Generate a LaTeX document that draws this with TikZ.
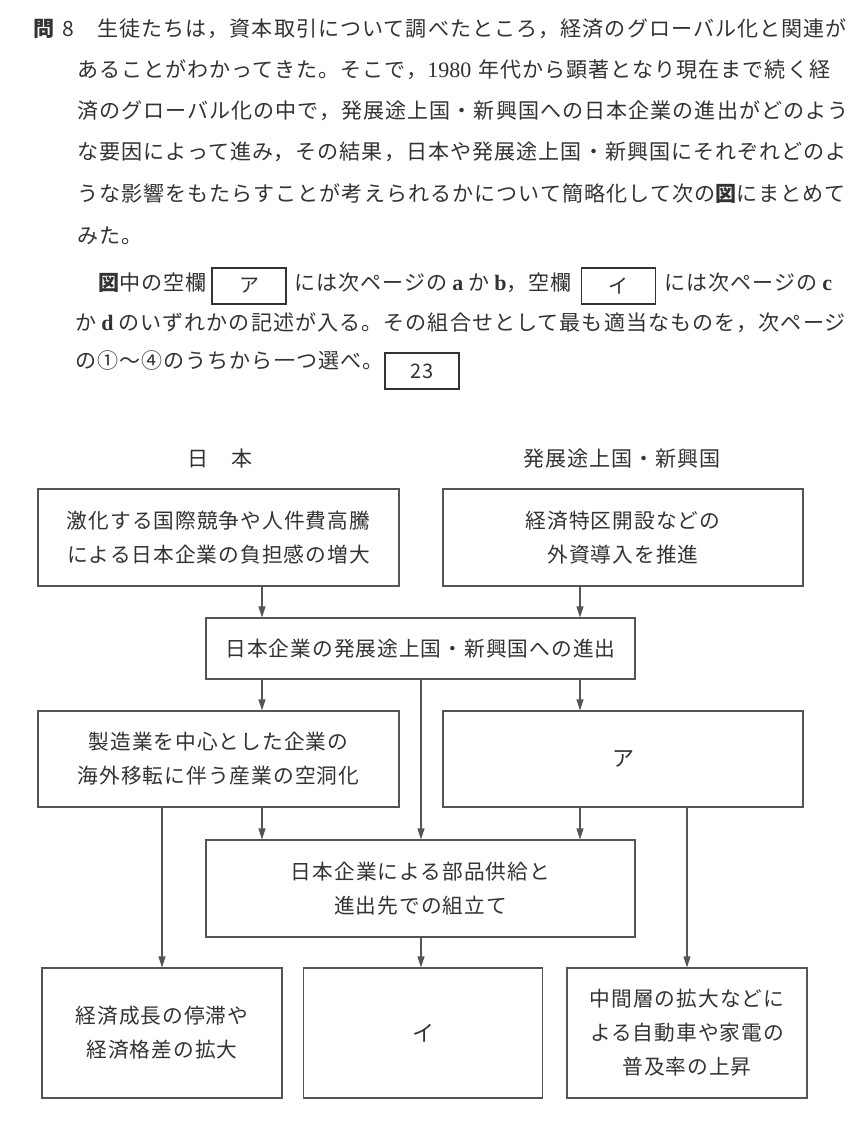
\documentclass[tikz,border=0pt]{standalone}
\usepackage{fontspec}
\setmainfont{Noto Sans CJK JP}[LetterSpace=5]
\newfontfamily\plainjp{Noto Sans CJK JP}
\newfontfamily\lat{Liberation Serif}
\usetikzlibrary{arrows.meta}
\definecolor{ink}{HTML}{333333}
\definecolor{edge}{HTML}{555555}
\newcommand{\latb}[1]{{\lat\bfseries\fontsize{22}{26}\selectfont #1}}
\begin{document}
\begin{tikzpicture}[x=1pt,y=-1pt,
  txt/.style={text=ink, inner sep=0pt, text height=0.88em, text depth=0.12em, font=\fontsize{21.05}{35}\selectfont},
  ibox/.style={draw=ink, line width=1.6pt, rectangle, inner sep=0pt, minimum width=74pt, minimum height=36pt, text=ink, font=\plainjp\fontsize{20}{24}\selectfont},
  box/.style={draw=edge, line width=1.1pt, rectangle, inner sep=0pt, align=center, text=ink, font=\fontsize{20.7}{34}\selectfont},
  big/.style={font=\plainjp\fontsize{22}{26}\selectfont},
  arr/.style={draw=edge, line width=1.1pt, -{Triangle[length=11pt,width=7pt]}},
  ln/.style={draw=edge, line width=1.1pt}]
\fill[white] (0,0) rectangle (848,1138);
\useasboundingbox (0,0) rectangle (848,1138);

% question text
\node[txt,anchor=west] (l1a) at (33,33) {\bfseries 問};
\node[txt,anchor=west] (l1b) at (62,33) {\plainjp 8};
\node[txt,anchor=west] (l1) at (97,33) {生徒たちは，資本取引について調べたところ，経済のグローバル化と関連が};
\node[txt,anchor=west] (l2) at (77,74) {あることがわかってきた。そこで，{\lat\fontsize{22}{26}\selectfont 1980}\hspace{7pt}年代から顕著となり現在まで続く経};
\node[txt,anchor=west] (l3) at (77,115) {済のグローバル化の中で，発展途上国・新興国への日本企業の進出がどのよう};
\node[txt,anchor=west] (l4) at (77,156) {な要因によって進み，その結果，日本や発展途上国・新興国にそれぞれどのよ};
\node[txt,anchor=west] (l5) at (77,198) {うな影響をもたらすことが考えられるかについて簡略化して次の{\bfseries 図}にまとめて};
\node[txt,anchor=west] (l6) at (77,240) {みた。};
\node[txt,anchor=west] (l7a) at (98,287) {{\bfseries 図}中の空欄};
\node[ibox] (bA) at (249,286) {ア};
\node[txt,anchor=west] (l7b) at (294,287) {には次ページの\hspace{5pt}\latb{a}\hspace{5pt}か\hspace{5pt}\latb{b}，空欄};
\node[ibox] (bI) at (618.5,286) {イ};
\node[txt,anchor=west] (l7c) at (664,287) {には次ページの\hspace{5pt}\latb{c}};
\node[txt,anchor=west] (l8) at (75,327) {か\hspace{5pt}\latb{d}\hspace{5pt}のいずれかの記述が入る。その組合せとして最も適当なものを，次ページ};
\node[txt,anchor=west] (l9) at (75,365) {の①～④のうちから一つ選べ。};
\node[ibox] (b23) at (422,371) {23};

% headings
\node[txt] (hJ) at (220,463) {日　本};
\node[txt] (hD) at (622,463) {発展途上国・新興国};

% boxes
\node[box, minimum width=361pt, minimum height=97pt] (tl) at (218.5,537.5) {激化する国際競争や人件費高騰\\による日本企業の負担感の増大};
\node[box, minimum width=360pt, minimum height=97pt] (tr) at (623,537.5) {経済特区開設などの\\外資導入を推進};
\node[box, minimum width=429pt, minimum height=61pt] (m1) at (420.5,648.5) {日本企業の発展途上国・新興国への進出};
\node[box, minimum width=361pt, minimum height=96pt] (ml) at (218.5,759) {製造業を中心とした企業の\\海外移転に伴う産業の空洞化};
\node[box, big, minimum width=360pt, minimum height=96pt] (mr) at (623,759) {ア};
\node[box, minimum width=429pt, minimum height=97pt] (m2) at (420.5,888.5) {日本企業による部品供給と\\進出先での組立て};
\node[box, minimum width=240pt, minimum height=130pt] (bl) at (162,1033) {経済成長の停滞や\\経済格差の拡大};
\node[box, big, minimum width=239pt, minimum height=130pt] (bm) at (423,1033) {イ};
\node[box, minimum width=240pt, minimum height=130pt] (br) at (687,1033) {中間層の拡大などに\\よる自動車や家電の\\普及率の上昇};

% connector columns
\coordinate (xL) at (262,0);
\coordinate (xR) at (580,0);
\coordinate (xC) at (421,0);
\coordinate (xLL) at (162,0);
\coordinate (xRR) at (687,0);

\draw[arr] (tl.south -| xL) -- (m1.north -| xL);
\draw[arr] (tr.south -| xR) -- (m1.north -| xR);
\draw[arr] (m1.south -| xL) -- (ml.north -| xL);
\draw[arr] (m1.south -| xR) -- (mr.north -| xR);
\draw[arr] (m1.south -| xC) -- (m2.north -| xC);
\draw[arr] (ml.south -| xL) -- (m2.north -| xL);
\draw[arr] (mr.south -| xR) -- (m2.north -| xR);
\draw[arr] (ml.south -| xLL) -- (bl.north -| xLL);
\draw[arr] (mr.south -| xRR) -- (br.north -| xRR);
\draw[arr] (m2.south -| xC) -- (bm.north -| xC);
\end{tikzpicture}
\end{document}
